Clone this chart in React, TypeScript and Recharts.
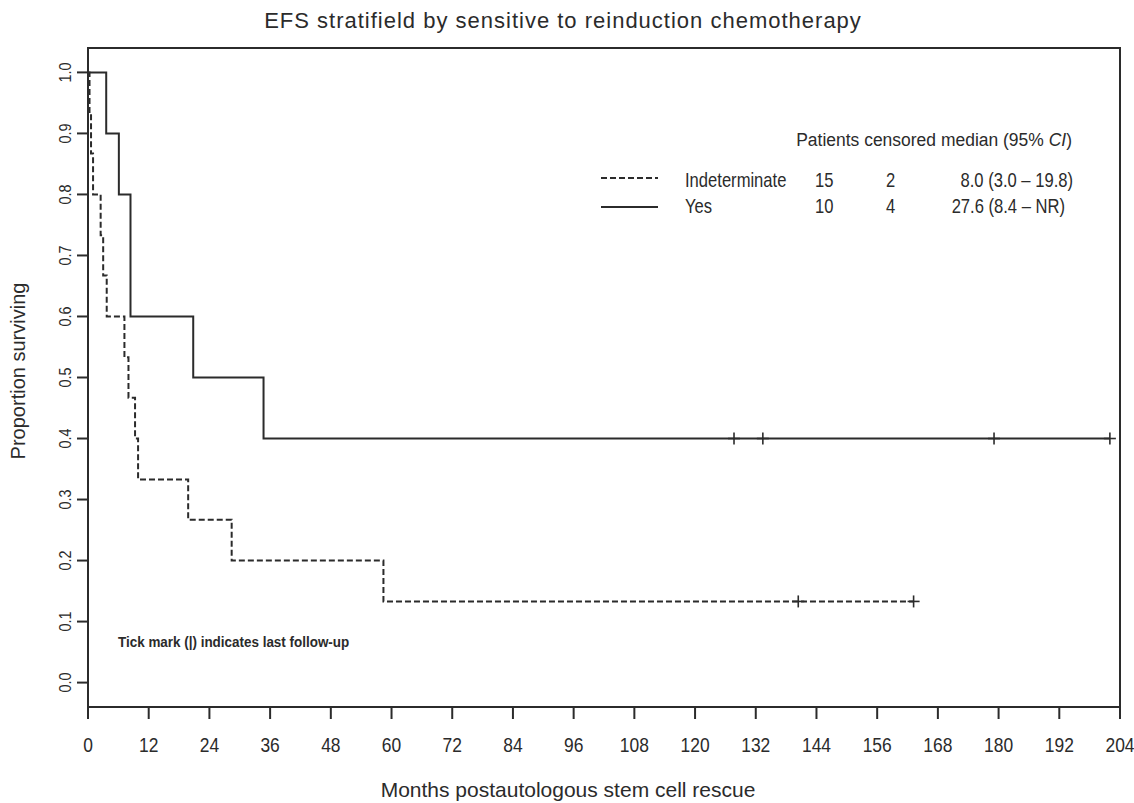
import React from 'react';
import { ComposedChart, Line, Scatter, XAxis, YAxis, ReferenceArea } from 'recharts';

// Kaplan-Meier steps (months, survival after the event)
const indetTimes = [0, 0.3, 0.6, 1.0, 2.5, 3.0, 3.7, 7.2, 8.0, 9.3, 9.9, 19.8, 28.4, 58.4, 163.2];
const indetSurv = [1, 0.933, 0.867, 0.8, 0.733, 0.667, 0.6, 0.533, 0.467, 0.4, 0.333, 0.267, 0.2, 0.133, 0.133];
const indetCensorTimes = [140.4, 163.2];
const indetCensorSurv = [0.133, 0.133];

const yesTimes = [0, 3.6, 6.1, 8.4, 20.8, 34.7, 202.0];
const yesSurv = [1, 0.9, 0.8, 0.6, 0.5, 0.4, 0.4];
const yesCensorTimes = [127.7, 133.4, 179.1, 202.0];
const yesCensorSurv = [0.4, 0.4, 0.4, 0.4];

const xTicks = [0, 12, 24, 36, 48, 60, 72, 84, 96, 108, 120, 132, 144, 156, 168, 180, 192, 204];
const yTicks = [0, 0.1, 0.2, 0.3, 0.4, 0.5, 0.6, 0.7, 0.8, 0.9, 1.0];

const legendRows = [
  { name: 'Indeterminate', patients: '15', censored: '2', median: '8.0 (3.0 \u2013 19.8)', dashed: true },
  { name: 'Yes', patients: '10', censored: '4', median: '27.6 (8.4 \u2013 NR)', dashed: false },
];

const toPoints = (ts: number[], ss: number[]) => ts.map((t, i) => ({ t, s: ss[i] }));

const indetData = toPoints(indetTimes, indetSurv);
const yesData = toPoints(yesTimes, yesSurv);
const indetCensor = toPoints(indetCensorTimes, indetCensorSurv);
const yesCensor = toPoints(yesCensorTimes, yesCensorSurv);

const INK = '#2b2b2b';
const SANS = '"Liberation Sans", Arial, sans-serif';

// no Arial Narrow available, so squeeze Liberation Sans horizontally
const NText = ({ x, y, sx = 0.83, size, anchor = 'start', rotate = 0, weight, children }: any) => (
  <text
    transform={`translate(${x},${y}) rotate(${rotate}) scale(${sx},1)`}
    textAnchor={anchor}
    fontFamily={SANS}
    fontSize={size}
    fontWeight={weight}
    fill={INK}
  >
    {children}
  </text>
);

const PlusMark = (props: any) => {
  const { cx, cy } = props;
  if (cx == null || cy == null) return null;
  return (
    <g stroke={INK} strokeWidth={1.6}>
      <line x1={cx} y1={cy - 6} x2={cx} y2={cy + 6} />
      <line x1={cx - 6} y1={cy} x2={cx + 6} y2={cy} />
    </g>
  );
};

const XTick = ({ x, y, payload }: any) => (
  <NText x={x} y={y + 31} size={21} anchor="middle">
    {payload.value}
  </NText>
);

const YTick = ({ x, y, payload }: any) => (
  <NText x={x - 4} y={y} size={17} anchor="middle" rotate={-90} sx={0.85}>
    {Number(payload.value).toFixed(1)}
  </NText>
);

export default function App() {
  return (
    <div style={{ position: 'absolute', left: 0, top: 0, width: 1134, height: 803, background: '#fff' }}>
      <ComposedChart width={1134} height={803} margin={{ top: 48, right: 14, bottom: 0, left: 0 }}>
        <XAxis
          type="number"
          dataKey="t"
          domain={[0, 204]}
          ticks={xTicks}
          interval={0}
          height={96}
          tickSize={12}
          stroke={INK}
          strokeWidth={2}
          tick={<XTick />}
          allowDataOverflow
        />
        <YAxis
          type="number"
          dataKey="s"
          domain={[-0.04, 1.04]}
          ticks={yTicks}
          interval={0}
          width={88}
          tickSize={11}
          stroke={INK}
          strokeWidth={2}
          tick={<YTick />}
          allowDataOverflow
        />
        <ReferenceArea x1={0} x2={204} y1={-0.04} y2={1.04} fill="none" stroke={INK} strokeWidth={2} />
        <Line
          data={indetData}
          dataKey="s"
          type="stepAfter"
          stroke={INK}
          strokeWidth={2}
          strokeDasharray="6 3"
          dot={false}
          isAnimationActive={false}
        />
        <Line
          data={yesData}
          dataKey="s"
          type="stepAfter"
          stroke={INK}
          strokeWidth={2}
          dot={false}
          isAnimationActive={false}
        />
        <Scatter data={indetCensor} dataKey="s" shape={<PlusMark />} isAnimationActive={false} />
        <Scatter data={yesCensor} dataKey="s" shape={<PlusMark />} isAnimationActive={false} />
      </ComposedChart>

      <svg width={1134} height={803} style={{ position: 'absolute', left: 0, top: 0, pointerEvents: 'none' }}>
        <text x={563} y={28} textAnchor="middle" fontFamily={SANS} fontSize={22} letterSpacing={1} fill={INK}>
          EFS stratifield by sensitive to reinduction chemotherapy
        </text>
        <text
          x={18}
          y={371}
          transform="rotate(-90, 18, 371)"
          textAnchor="middle"
          dominantBaseline="central"
          fontFamily={SANS}
          fontSize={20}
          fill={INK}
        >
          Proportion surviving
        </text>
        <text x={568} y={797} textAnchor="middle" fontFamily={SANS} fontSize={21} fill={INK}>
          Months postautologous stem cell rescue
        </text>

        <NText x={1072} y={146} size={19} anchor="end" sx={0.92}>
          Patients censored median (95% <tspan fontStyle="italic">CI</tspan>)
        </NText>
        {legendRows.map((r, i) => {
          const ly = i === 0 ? 178 : 207;
          const ty = i === 0 ? 187 : 213;
          return (
            <g key={r.name}>
              <line
                x1={601}
                x2={658}
                y1={ly}
                y2={ly}
                stroke={INK}
                strokeWidth={2}
                strokeDasharray={r.dashed ? '6 3' : undefined}
              />
              <NText x={685} y={ty} size={20}>{r.name}</NText>
              <NText x={815} y={ty} size={20}>{r.patients}</NText>
              <NText x={886} y={ty} size={20}>{r.censored}</NText>
              <NText x={i === 0 ? 1073 : 1065} y={ty} size={20} anchor="end">{r.median}</NText>
            </g>
          );
        })}

        <NText x={118} y={647} size={14} weight="bold" sx={0.96}>
          Tick mark (|) indicates last follow-up
        </NText>
      </svg>
    </div>
  );
}
